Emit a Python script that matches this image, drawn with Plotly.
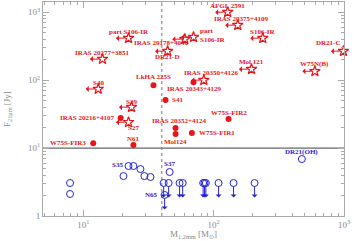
import numpy as np
import plotly.graph_objects as go

# ---------------- data ----------------
# red filled circles (detections)
det_names = ["W75S-FIR3", "N61", "IRAS 20216+4107", "LkHA 225S", "S41",
             "IRAS 20343+4129", "IRAS 20352+4124", "Mol124", "W75S-FIR1", "W75S-FIR2"]
det_mass = [11.9, 24.2, 19.3, 34.5, 42.7, 70, 51, 51, 68, 130]
det_flux = [11.8, 11.1, 27.6, 84, 51, 93, 19.7, 16.1, 16.6, 26.7]

# red stars (mass upper limits)
lim_names = ["S40", "IRAS 20277+3851", "part S106-IR", "IRAS 20178+4046", "part<br>S106-IR",
             "DR21-D", "AFGL 2591", "IRAS 20375+4109", "S106-IR", "DR21-C",
             "Mol 121", "W75N(B)", "IRAS 20350+4126", "S39", "S27"]
lim_mass = [13.0, 14.0, 22.2, 60, 70, 44.3, 128, 153, 238, 990, 195, 598, 84, 23.4, 22.2]
lim_flux = [74, 204, 415, 401, 429, 267, 1000, 644, 415, 267, 145, 135, 100, 40, 24]

# blue open circles
weak_names = ["", "", "", "S35", "", "", "", "", "S37", "DR21(OH)"]
weak_mass = [7.9, 7.9, 20.3, 22.2, 24.2, 27.4, 29.4, 32.7, 45.9, 475]
weak_flux = [3.06, 2.11, 3.87, 5.44, 5.44, 4.91, 3.87, 3.75, 4.44, 6.89]

# blue open circles with flux upper limits
ul_names = ["", "", "", "", "", "", "", "", "", "", "N65"]
ul_mass = [41.3, 45.1, 54.7, 57.8, 83, 85, 87, 109, 142, 206, 42]
ul_flux = [3.06, 3.06, 3.06, 3.06, 3.06, 3.06, 3.06, 3.06, 3.06, 3.06, 2.04]

F_THRESHOLD = 10
M_THRESHOLD = 40
X_RANGE = [0.69, 3.0]
Y_RANGE = [0.0, 3.15]

# ---------------- label placement (pixel offsets, style only) ----------------
place = {
    "W75S-FIR3": (-5, 0, "right"), "N61": (0, 6, "center"),
    "IRAS 20216+4107": (-5, 0, "right"), "LkHA 225S": (0, 8, "center"),
    "S41": (4, 0, "left"), "IRAS 20343+4129": (0, -7, "center"),
    "IRAS 20352+4124": (3, 7, "center"), "Mol124": (0, -8, "center"),
    "W75S-FIR1": (5, 0, "left"), "W75S-FIR2": (0, 6, "center"),
    "S40": (0, 6, "center"), "IRAS 20277+3851": (0, 6, "center"),
    "part S106-IR": (0, 6, "center"), "IRAS 20178+4046": (5, -4, "right"),
    "part<br>S106-IR": (4, 2, "left"), "DR21-D": (0, -6, "center"),
    "AFGL 2591": (0, 6, "center"), "IRAS 20375+4109": (3, 6, "center"),
    "S106-IR": (0, 6, "center"), "DR21-C": (0, 8, "right"),
    "Mol 121": (0, 7, "center"), "W75N(B)": (0, 7, "center"),
    "IRAS 20350+4126": (7, 7, "center"), "S39": (0, 5, "center"),
    "S27": (5, -6, "center"),
    "S35": (-4, 1, "right"), "S37": (0, 8, "center"),
    "N65": (-5, 0, "right"), "DR21(OH)": (0, 7, "center"),
}

RED = "#e8141c"
BLUE = "#2626d4"
GRAY = "#8a8a8a"
LFONT = "Liberation Serif"

fig = go.Figure()

fig.add_trace(go.Scatter(x=[10 ** X_RANGE[0], 10 ** X_RANGE[1]], y=[F_THRESHOLD, F_THRESHOLD],
                         mode="lines", line=dict(color="#666666", width=1.2),
                         hoverinfo="skip", showlegend=False))
fig.add_trace(go.Scatter(x=[M_THRESHOLD, M_THRESHOLD], y=[10 ** Y_RANGE[0], 10 ** Y_RANGE[1]],
                         mode="lines", line=dict(color="#777777", width=1, dash="dot"),
                         hoverinfo="skip", showlegend=False))

fig.add_trace(go.Scatter(x=det_mass, y=det_flux, mode="markers",
                         marker=dict(color=RED, size=6, symbol="circle"),
                         showlegend=False, cliponaxis=False))
fig.add_trace(go.Scatter(x=lim_mass, y=lim_flux, mode="markers",
                         marker=dict(color=RED, size=8, symbol="star-open", line=dict(width=1.2, color=RED)),
                         showlegend=False, cliponaxis=False))
fig.add_trace(go.Scatter(x=weak_mass, y=weak_flux, mode="markers",
                         marker=dict(color=BLUE, size=7, symbol="circle-open", line=dict(width=1, color=BLUE)),
                         showlegend=False, cliponaxis=False))
fig.add_trace(go.Scatter(x=ul_mass, y=ul_flux, mode="markers",
                         marker=dict(color=BLUE, size=7, symbol="circle-open", line=dict(width=1, color=BLUE)),
                         showlegend=False, cliponaxis=False))

ann = []
for m, f in zip(lim_mass, lim_flux):
    ann.append(dict(x=np.log10(m), y=np.log10(f), xref="x", yref="y", text="",
                    showarrow=True, ax=-14, ay=0, arrowside="start", arrowhead=2,
                    arrowsize=0.8, arrowwidth=1, arrowcolor=RED, standoff=4))
for m, f in zip(ul_mass, ul_flux):
    ann.append(dict(x=np.log10(m), y=np.log10(f), xref="x", yref="y", text="",
                    showarrow=True, ax=0, ay=16, arrowside="start", arrowhead=2,
                    arrowsize=0.8, arrowwidth=1, arrowcolor=BLUE, standoff=3.5))

def add_labels(names, xs, ys, color):
    for n, m, f in zip(names, xs, ys):
        if not n:
            continue
        dx, dy, anc = place[n]
        ann.append(dict(x=np.log10(m), y=np.log10(f), xref="x", yref="y", text=n,
                        showarrow=False, xshift=dx, yshift=dy, xanchor=anc, yanchor="middle",
                        align="left" if anc == "left" else "center",
                        font=dict(family=LFONT, size=7, color=color, weight="bold")))

add_labels(det_names, det_mass, det_flux, RED)
add_labels(lim_names, lim_mass, lim_flux, RED)
add_labels(weak_names, weak_mass, weak_flux, BLUE)
add_labels(ul_names, ul_mass, ul_flux, BLUE)

# axis titles
ann.append(dict(x=0.5, y=0, xref="paper", yref="paper", yanchor="top", yshift=-11,
                text="M<sub>1.2mm</sub> [M<sub>⊙</sub>]",
                showarrow=False, font=dict(family=LFONT, size=9, color=GRAY)))
ann.append(dict(x=0, y=0.5, xref="paper", yref="paper", xshift=-36, text="F<sub>21μm</sub> [Jy]",
                textangle=-90, showarrow=False, xanchor="center", yanchor="middle",
                font=dict(family=LFONT, size=9, color=GRAY)))

def minor_vals(lo, hi):
    vals = []
    for k in range(lo, hi):
        for d in range(2, 10):
            vals.append(d * 10 ** k)
    return vals

axis_common = dict(type="log", showgrid=False, zeroline=False, showline=True,
                   linecolor="#aaaaaa", linewidth=1, mirror="ticks", ticks="inside",
                   ticklen=6, tickcolor="#aaaaaa", automargin=False,
                   tickfont=dict(family=LFONT, size=9, color=GRAY))

fig.update_xaxes(range=X_RANGE, tickvals=[10, 100, 1000],
                 ticktext=["10<sup>1</sup>", "10<sup>2</sup>", "10<sup>3</sup>"],
                 minor=dict(ticks="inside", ticklen=3, tickcolor="#aaaaaa", showgrid=False,
                            tickmode="array", tickvals=minor_vals(0, 3)),
                 **axis_common)
fig.update_yaxes(range=Y_RANGE, tickvals=[1, 10, 100, 1000],
                 ticktext=["1", "10<sup>1</sup>", "10<sup>2</sup>", "10<sup>3</sup>"],
                 minor=dict(ticks="inside", ticklen=3, tickcolor="#aaaaaa", showgrid=False,
                            tickmode="array", tickvals=minor_vals(0, 4)),
                 **axis_common)

fig.update_layout(width=354, height=241, margin=dict(l=43, r=10, t=2, b=25),
                  paper_bgcolor="white", plot_bgcolor="white", annotations=ann,
                  showlegend=False)

fig.write_html("out.html", config={"displayModeBar": False},
               post_script="document.body.style.margin='0';document.body.style.padding='0';")
